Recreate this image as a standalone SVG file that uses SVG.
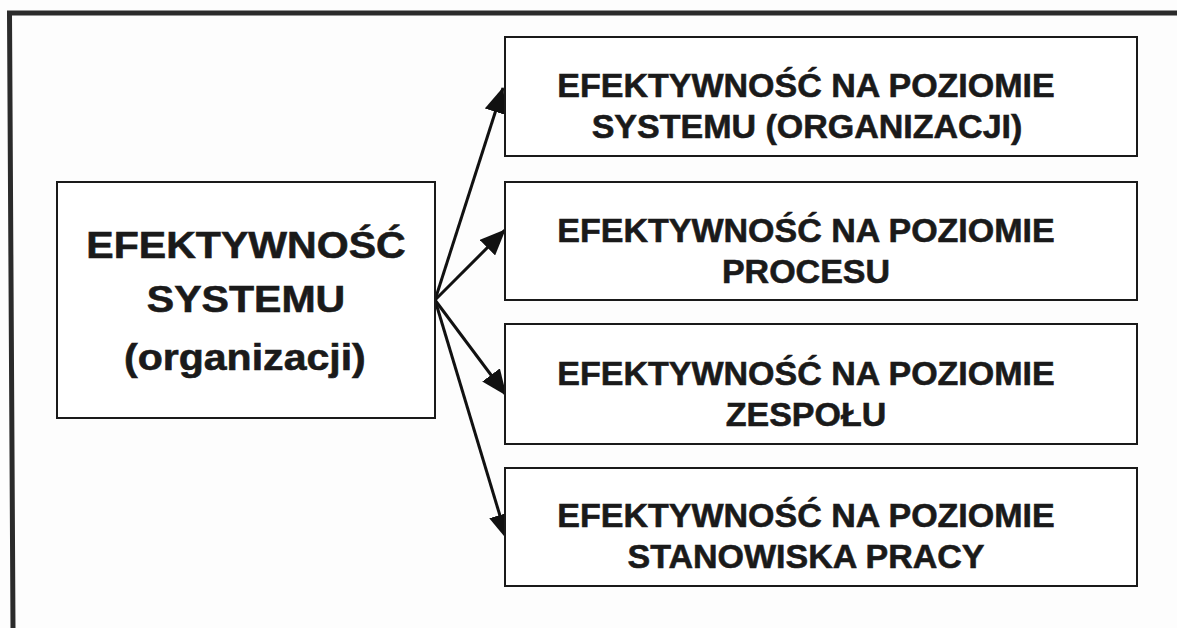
<svg xmlns="http://www.w3.org/2000/svg" width="1177" height="628" viewBox="0 0 1177 628">
  <style>
    .box { fill: #ffffff; stroke: #1a1a1a; stroke-width: 2; }
    .lbl { font-family: "Liberation Sans", Arial, sans-serif; font-weight: bold; fill: #1a1a1a; stroke: #1a1a1a; stroke-width: 0.6; text-anchor: middle; }
    .sub { font-size: 34px; }
    .main { font-size: 37px; }
    .conn { stroke: #111111; stroke-width: 3; fill: none; }
  </style>
  <defs>
    <marker id="head" viewBox="0 0 26 22" refX="25" refY="11" markerWidth="26" markerHeight="22" markerUnits="userSpaceOnUse" orient="auto">
      <path d="M0,0 L26,11 L0,22 Z" fill="#111111"/>
    </marker>
  </defs>

  <rect width="1177" height="628" fill="#fdfdfd"/>

  <!-- outer frame (left and top edges) -->
  <path d="M 13 628 L 9.5 13 L 1177 13" fill="none" stroke="#2b2b2b" stroke-width="5"/>

  <!-- connectors -->
  <g id="connectors">
    <line class="conn" x1="435" y1="300" x2="503" y2="88" marker-end="url(#head)"/>
    <line class="conn" x1="435" y1="300" x2="505" y2="230" marker-end="url(#head)"/>
    <line class="conn" x1="435" y1="300" x2="506" y2="395" marker-end="url(#head)"/>
    <line class="conn" x1="435" y1="300" x2="507" y2="539" marker-end="url(#head)"/>
  </g>

  <g id="system">
    <rect class="box" x="57" y="182" width="378" height="236"/>
    <!-- label set in a horizontally widened face -->
    <g transform="translate(246,0) scale(1.11,1)">
      <text class="lbl main" x="0" y="258">EFEKTYWNOŚĆ</text>
      <text class="lbl main" x="0" y="312">SYSTEMU</text>
      <text class="lbl main" x="-1" y="370">(organizacji)</text>
    </g>
  </g>

  <g id="level-system">
    <rect class="box" x="505" y="37" width="632" height="119"/>
    <text class="lbl sub" x="806" y="97">EFEKTYWNOŚĆ NA POZIOMIE</text>
    <text class="lbl sub" x="807" y="138">SYSTEMU (ORGANIZACJI)</text>
  </g>

  <g id="level-process">
    <rect class="box" x="505" y="182" width="632" height="118"/>
    <text class="lbl sub" x="806" y="242">EFEKTYWNOŚĆ NA POZIOMIE</text>
    <text class="lbl sub" x="806" y="283">PROCESU</text>
  </g>

  <g id="level-team">
    <rect class="box" x="505" y="324" width="632" height="120"/>
    <text class="lbl sub" x="806" y="385">EFEKTYWNOŚĆ NA POZIOMIE</text>
    <text class="lbl sub" x="806" y="426">ZESPOŁU</text>
  </g>

  <g id="level-workstation">
    <rect class="box" x="505" y="468" width="632" height="118"/>
    <text class="lbl sub" x="806" y="527">EFEKTYWNOŚĆ NA POZIOMIE</text>
    <text class="lbl sub" x="806" y="568">STANOWISKA PRACY</text>
  </g>
</svg>
